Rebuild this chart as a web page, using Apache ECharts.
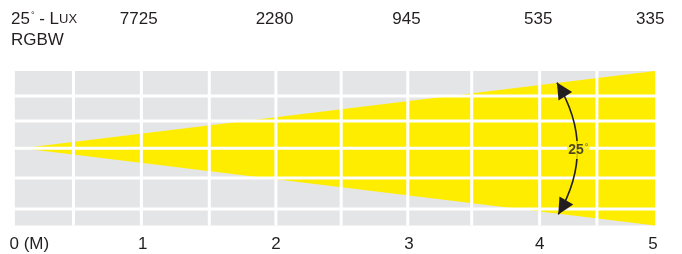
<!DOCTYPE html>
<html><head><meta charset="utf-8">
<script src="https://cdn.jsdelivr.net/npm/echarts@6/dist/echarts.min.js"></script>
<style>html,body{margin:0;padding:0;background:#fff}#c{width:682px;height:254px}</style>
</head><body><div id="c"></div>
<script>
// distance axis (metres) and tick labels
const distanceTicks = [0, 1, 2, 3, 3.98, 4.83];
const distanceLabels = ['0 (M)', '1', '2', '3', '4', '5'];
// illuminance (lux) at each distance
const luxTicks = [0.97, 1.99, 2.98, 3.97, 4.81];
const luxLabels = ['7725', '2280', '945', '535', '335'];
// grey panel extent
const panelX = [0.04, 4.846];
const panelY = [-1, 1];
// beam cone
const beamApex = [0.09, 0];
const beamEndX = 4.846;
const beamHalfWidth = 1;
// white grid lines
const verticalGrid = [0.48, 0.99, 1.5, 2.0, 2.49, 2.99, 3.47, 3.98, 4.41];
const horizontalGrid = [0.676, 0.353, 0, -0.385, -0.787];
// angle annotation (arc end points, bulge as fraction of chord)
const arcFrom = [4.11, 0.85];
const arcTo = [4.12, -0.856];
const arcBulge = 0.3;
const angleLabelPos = [4.27, -0.023];
const angleText = '25';

const FONT = '"Liberation Sans", Arial, sans-serif';
const GREY = '#e4e5e6', YELLOW = '#ffed00', INK = '#231f20';

function arrowHead(tip, from, len, half) {
  const dx = tip[0] - from[0], dy = tip[1] - from[1];
  const d = Math.hypot(dx, dy) || 1;
  const ux = dx / d, uy = dy / d;
  const bx = tip[0] - ux * len, by = tip[1] - uy * len;
  return [tip, [bx - uy * half, by + ux * half], [bx + uy * half, by - ux * half]];
}

const chart = echarts.init(document.getElementById('c'), null, {renderer: 'canvas'});
chart.setOption({
  animation: false,
  backgroundColor: '#fff',
  graphic: [
    {type: 'text', left: 11, top: 11, style: {
      text: '{n|25}{d|°}{n| - L}{s|UX}',
      rich: {
        n: {fontSize: 17, fontFamily: FONT, fill: INK, color: INK},
        d: {fontSize: 9, fontFamily: FONT, fill: INK, color: INK, verticalAlign: 'top', padding: [0, 0, 8, 1]},
        s: {fontSize: 13, fontFamily: FONT, fill: INK, color: INK}
      }
    }},
    {type: 'text', left: 11, top: 32, style: {text: 'RGBW', fontSize: 17, fontFamily: FONT, fill: INK}}
  ],
  grid: {left: 9.5, top: 71, width: 666, height: 154.5, containLabel: false},
  xAxis: [
    {type: 'value', min: 0, max: 5, position: 'bottom',
      axisLine: {show: false}, axisTick: {show: false}, splitLine: {show: false},
      axisLabel: {customValues: distanceTicks, margin: 10, alignMinLabel: 'left',
        fontSize: 17, fontFamily: FONT, color: INK,
        formatter: v => distanceLabels[distanceTicks.indexOf(v)]}},
    {type: 'value', min: 0, max: 5, position: 'top',
      axisLine: {show: false}, axisTick: {show: false}, splitLine: {show: false},
      axisLabel: {customValues: luxTicks, margin: 43,
        fontSize: 17, fontFamily: FONT, color: INK,
        formatter: v => luxLabels[luxTicks.indexOf(v)]}}
  ],
  yAxis: {type: 'value', min: -1, max: 1, show: false},
  series: [
    {type: 'custom', z: 1, silent: true,
      data: [[panelX[0], panelX[1], panelY[0], panelY[1]]],
      renderItem: (p, api) => {
        const a = api.coord([api.value(0), api.value(3)]);
        const b = api.coord([api.value(1), api.value(2)]);
        return {type: 'rect', shape: {x: a[0], y: a[1], width: b[0] - a[0], height: b[1] - a[1]}, style: {fill: GREY}};
      }},
    {type: 'custom', z: 2, silent: true,
      data: [[beamApex[0], beamApex[1], beamEndX, beamHalfWidth]],
      renderItem: (p, api) => {
        const ax = api.value(0), ay = api.value(1), ex = api.value(2), h = api.value(3);
        return {type: 'polygon', shape: {points: [api.coord([ax, ay]), api.coord([ex, ay + h]), api.coord([ex, ay - h])]}, style: {fill: YELLOW}};
      }},
    {type: 'custom', z: 3, silent: true,
      data: verticalGrid.map(v => [v]),
      renderItem: (p, api) => {
        const a = api.coord([api.value(0), panelY[0]]);
        const b = api.coord([api.value(0), panelY[1]]);
        return {type: 'line', shape: {x1: a[0], y1: a[1], x2: b[0], y2: b[1]}, style: {stroke: '#fff', lineWidth: 3}};
      }},
    {type: 'custom', z: 3, silent: true,
      data: horizontalGrid.map(v => [v]),
      renderItem: (p, api) => {
        const a = api.coord([panelX[0], api.value(0)]);
        const b = api.coord([panelX[1], api.value(0)]);
        return {type: 'line', shape: {x1: a[0], y1: a[1], x2: b[0], y2: b[1]}, style: {stroke: '#fff', lineWidth: 3}};
      }},
    {type: 'custom', z: 5, silent: true,
      data: [[arcFrom[0], arcFrom[1], arcTo[0], arcTo[1]]],
      renderItem: (p, api) => {
        const a = api.coord([api.value(0), api.value(1)]);
        const b = api.coord([api.value(2), api.value(3)]);
        const mx = (a[0] + b[0]) / 2, my = (a[1] + b[1]) / 2;
        const dx = b[0] - a[0], dy = b[1] - a[1];
        const chord = Math.hypot(dx, dy);
        let nx = dy / chord, ny = -dx / chord;
        if (nx < 0) { nx = -nx; ny = -ny; }
        const cp = [mx + nx * chord * arcBulge, my + ny * chord * arcBulge];
        return {type: 'group', children: [
          {type: 'bezierCurve', shape: {x1: a[0], y1: a[1], x2: b[0], y2: b[1], cpx1: cp[0], cpy1: cp[1]},
            style: {stroke: INK, lineWidth: 1.6, fill: null}},
          {type: 'polygon', shape: {points: arrowHead(a, cp, 16, 8)}, style: {fill: INK}},
          {type: 'polygon', shape: {points: arrowHead(b, cp, 16, 8)}, style: {fill: INK}}
        ]};
      }},
    {type: 'scatter', z: 10, silent: true, symbolSize: 1,
      itemStyle: {color: 'rgba(0,0,0,0)'},
      data: [angleLabelPos],
      label: {show: true, position: 'inside',
        formatter: '{b|' + angleText + '}{d|°}',
        backgroundColor: YELLOW, padding: [2, 1, 1, 1],
        rich: {
          b: {fontSize: 14, fontWeight: 'bold', fontFamily: FONT, color: INK},
          d: {fontSize: 9, fontFamily: FONT, color: INK, verticalAlign: 'top', padding: [0, 0, 6, 1]}
        }}}
  ]
});
</script></body></html>
